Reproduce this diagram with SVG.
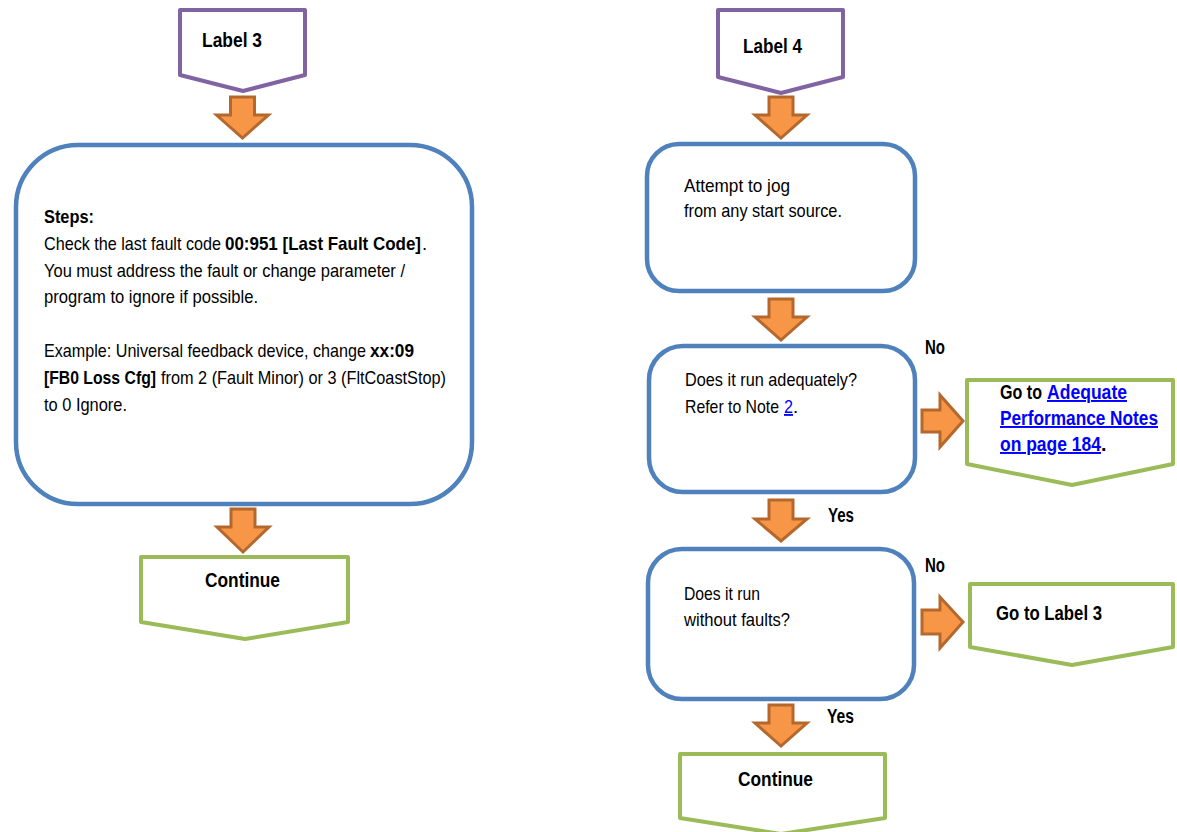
<svg xmlns="http://www.w3.org/2000/svg" width="1177" height="832" viewBox="0 0 1177 832">
<style>
text{font-family:"Liberation Sans",Arial,sans-serif;fill:#000}
.t{font-size:18.5px}
.b{font-size:19.5px;font-weight:bold}
.tb{font-size:18.5px;font-weight:bold}
.lnk{fill:#0000FF;text-decoration:underline}
.purple{fill:#fff;stroke:#8064A2;stroke-width:4;stroke-linejoin:round}
.green{fill:#fff;stroke:#9BBB59;stroke-width:4;stroke-linejoin:round}
.blue{fill:#fff;stroke:#4F81BD;stroke-width:4.5}
.arr{fill:#F79646;stroke:#B5682D;stroke-width:3;stroke-linejoin:miter}
</style>
<rect width="1177" height="832" fill="#fff"/>

<g id="connectors">
<path class="arr" d="M230.5,97 H254.5 V115 H268.5 L242.5,138 L216.5,115 H230.5 Z"/>
<path class="arr" d="M231,509 H255 V527 H269 L243,552 L217,527 H231 Z"/>
<path class="arr" d="M769,97 H793 V115 H807 L781,138 L755,115 H769 Z"/>
<path class="arr" d="M769,299 H793 V317 H807 L781,340 L755,317 H769 Z"/>
<path class="arr" d="M769,500 H793 V519 H807 L781,541 L755,519 H769 Z"/>
<path class="arr" d="M769,705 H793 V723 H807 L781,746 L755,723 H769 Z"/>
<path class="arr" d="M922,410 H940 V395 L963,421 L940,447 V432 H922 Z"/>
<path class="arr" d="M922,610 H940 V597 L963,622 L940,648 V634 H922 Z"/>
<text class="b" x="925" y="354" textLength="20" lengthAdjust="spacingAndGlyphs">No</text>
<text class="b" x="828" y="522" textLength="26" lengthAdjust="spacingAndGlyphs">Yes</text>
<text class="b" x="925" y="572" textLength="20" lengthAdjust="spacingAndGlyphs">No</text>
<text class="b" x="827" y="723" textLength="27" lengthAdjust="spacingAndGlyphs">Yes</text>
</g>

<g id="label3">
<path class="purple" d="M180,10 H305 V75 L243,91 L180,75 Z"/>
<text class="b" x="202" y="47" textLength="60" lengthAdjust="spacingAndGlyphs">Label 3</text>
</g>

<g id="steps">
<rect class="blue" x="16" y="145" width="456" height="359" rx="62"/>
<text class="tb" x="44" y="223" textLength="50" lengthAdjust="spacingAndGlyphs">Steps:</text>
<text class="t" x="44" y="250" textLength="177" lengthAdjust="spacingAndGlyphs">Check the last fault code</text>
<text class="tb" x="225" y="250" textLength="196" lengthAdjust="spacingAndGlyphs">00:951 [Last Fault Code]</text>
<text class="t" x="422" y="250">.</text>
<text class="t" x="44" y="277" textLength="361" lengthAdjust="spacingAndGlyphs">You must address the fault or change parameter /</text>
<text class="t" x="44" y="303" textLength="214" lengthAdjust="spacingAndGlyphs">program to ignore if possible.</text>
<text class="t" x="44" y="357" textLength="322" lengthAdjust="spacingAndGlyphs">Example: Universal feedback device, change</text>
<text class="tb" x="370" y="357" textLength="44" lengthAdjust="spacingAndGlyphs">xx:09</text>
<text class="tb" x="44" y="384" textLength="112" lengthAdjust="spacingAndGlyphs">[FB0 Loss Cfg]</text>
<text class="t" x="161" y="384" textLength="285" lengthAdjust="spacingAndGlyphs">from 2 (Fault Minor) or 3 (FltCoastStop)</text>
<text class="t" x="44" y="411" textLength="83" lengthAdjust="spacingAndGlyphs">to 0 Ignore.</text>
</g>

<g id="continue1">
<path class="green" d="M141,557 H348 V622 L245,639 L141,622 Z"/>
<text class="b" x="205" y="587" textLength="75" lengthAdjust="spacingAndGlyphs">Continue</text>
</g>

<g id="label4">
<path class="purple" d="M718,10 H843 V77 L781,93 L718,77 Z"/>
<text class="b" x="743" y="53" textLength="59" lengthAdjust="spacingAndGlyphs">Label 4</text>
</g>

<g id="jog">
<rect class="blue" x="647" y="144" width="268" height="147" rx="32"/>
<text class="t" x="684" y="192" textLength="106" lengthAdjust="spacingAndGlyphs">Attempt to jog</text>
<text class="t" x="684" y="217" textLength="158" lengthAdjust="spacingAndGlyphs">from any start source.</text>
</g>

<g id="adequate">
<rect class="blue" x="649" y="346" width="266" height="146" rx="34"/>
<text class="t" x="685" y="386" textLength="172" lengthAdjust="spacingAndGlyphs">Does it run adequately?</text>
<text class="t" x="685" y="413" textLength="94" lengthAdjust="spacingAndGlyphs">Refer to Note</text>
<text class="t lnk" x="784" y="413" textLength="9" lengthAdjust="spacingAndGlyphs">2</text>
<text class="t" x="793" y="413">.</text>
</g>

<g id="gotoNotes">
<path class="green" d="M967,380 H1173 V464 L1072,485 L967,464 Z"/>
<text class="b" x="1000" y="399" textLength="42" lengthAdjust="spacingAndGlyphs">Go to</text>
<text class="b lnk" x="1047" y="399" textLength="80" lengthAdjust="spacingAndGlyphs">Adequate</text>
<text class="b lnk" x="1000" y="425" textLength="158" lengthAdjust="spacingAndGlyphs">Performance Notes</text>
<text class="b lnk" x="1000" y="451" textLength="101" lengthAdjust="spacingAndGlyphs">on page 184</text>
<text class="b" x="1101" y="451">.</text>
</g>

<g id="faults">
<rect class="blue" x="648" y="549" width="266" height="150" rx="34"/>
<text class="t" x="684" y="600" textLength="76" lengthAdjust="spacingAndGlyphs">Does it run</text>
<text class="t" x="684" y="626" textLength="106" lengthAdjust="spacingAndGlyphs">without faults?</text>
</g>

<g id="gotoLabel3">
<path class="green" d="M970,584 H1173 V647 L1072,665 L970,647 Z"/>
<text class="b" x="996" y="620" textLength="106" lengthAdjust="spacingAndGlyphs">Go to Label 3</text>
</g>

<g id="continue2">
<path class="green" d="M680,754 H885 V818 L781,834 L680,818 Z"/>
<text class="b" x="738" y="786" textLength="75" lengthAdjust="spacingAndGlyphs">Continue</text>
</g>
</svg>
